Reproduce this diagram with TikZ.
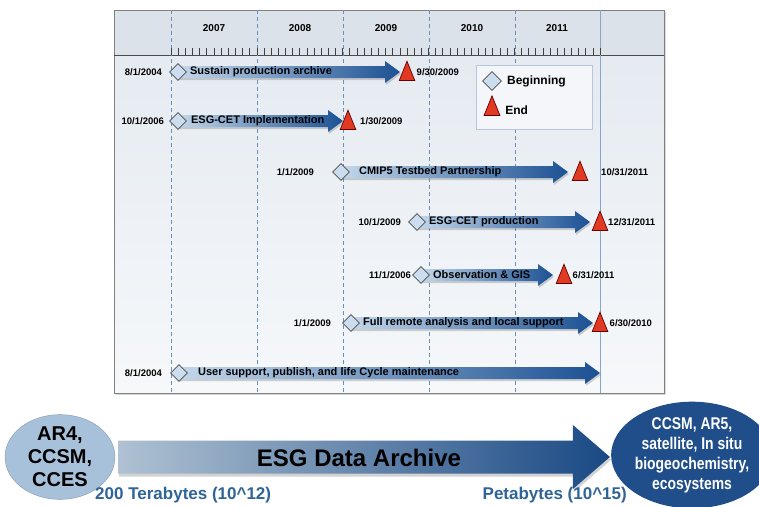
\documentclass[tikz,border=0pt]{standalone}
\usepackage{fontspec}
\setmainfont{Liberation Sans}
\newfontfamily\narrowfont[FakeStretch=0.82]{Liberation Sans}
\usetikzlibrary{positioning,calc,shapes.geometric,shadows}
\definecolor{panelhi}{HTML}{E3E9F0}
\definecolor{panello}{HTML}{F6F8FA}
\definecolor{headfill}{HTML}{DCE2E9}
\definecolor{gridblue}{HTML}{6A90BE}
\definecolor{nowblue}{HTML}{86A5C8}
\definecolor{barlight}{HTML}{C3D7EA}
\definecolor{bardark}{HTML}{1C5193}
\definecolor{startfill}{HTML}{CBDDEE}
\definecolor{endfill}{HTML}{E23A22}
\definecolor{srcfill}{HTML}{A8C1DA}
\definecolor{dstfill}{HTML}{1F4E8A}
\definecolor{sizeblue}{HTML}{2E6497}
\tikzset{
	start/.style={diamond,draw=black!70,fill=startfill,line width=0.8pt,minimum size=17pt,inner sep=0pt},
	finish/.style={isosceles triangle,shape border rotate=90,isosceles triangle apex angle=44,draw=red!40!black,fill=endfill,line width=0.7pt,minimum size=15.5pt,inner sep=0pt,yshift=-3.2pt},
	bar/.style={left color=barlight,right color=bardark,drop shadow={opacity=.35,shadow xshift=1pt,shadow yshift=-2pt}},
	bartext/.style={font=\bfseries\fontsize{11}{13}\selectfont,inner sep=0pt},
	date/.style={font=\bfseries\fontsize{9.5}{11}\selectfont,inner sep=0pt},
	enddate/.style={date,yshift=3.2pt},
	year/.style={font=\bfseries\fontsize{10}{12}\selectfont,inner sep=0pt},
	grid/.style={gridblue,line width=0.8pt,dash pattern=on 4pt off 3pt},
	tick/.style={black!75,line width=0.6pt}
}
% shaded task arrow from a start point to a tip
\newcommand{\taskarrow}[2]{%
	\path[bar] ($(#1)+(0,-6)$) -- ($(#2)+(-15,-6)$) -- ($(#2)+(-15,-11)$) -- (#2)
		-- ($(#2)+(-15,11)$) -- ($(#2)+(-15,6)$) -- ($(#1)+(0,6)$) -- cycle;}

\begin{document}
\begin{tikzpicture}[x=1pt,y=-1pt]
	\useasboundingbox (0,0) rectangle (759,506);
	\fill[white] (0,0) rectangle (759,506);

	% chart panel
	\path[top color=panelhi,bottom color=panello,drop shadow={opacity=.3,shadow xshift=1.5pt,shadow yshift=-1.5pt}] (114,10) rectangle (664,393);
	\fill[headfill] (114,10) rectangle (664,55);
	\draw[black!50,line width=0.8pt] (114,10) rectangle (664,393);
	\draw[black!70,line width=0.8pt] (114,55) -- (664,55);
	\foreach \x in {171,257,343,429,515}
		\draw[grid] (\x,10) -- (\x,393);
	\draw[nowblue,line width=1pt] (600,10) -- (600,393);
	\foreach \i in {0,...,60}
		\draw[tick] ({171+\i*7.15},48) -- ({171+\i*7.15},55);
	\foreach \x/\yr in {214/2007,300/2008,386/2009,472/2010,557/2011}
		\node[year] (y\yr) at (\x,28) {\yr};

	% legend
	\node[draw=gridblue!50,fill=white!60!panelhi,line width=0.8pt,minimum width=116pt,minimum height=64pt] (legend) at (534,97) {};
	\node[start,minimum size=19pt] (ls) at (492,81) {};
	\node[bartext,font=\bfseries\fontsize{12}{14}\selectfont,right=5pt of ls] (lstext) {Beginning};
	\node[finish,minimum size=16pt] (le) at (492,107) {};
	\node[bartext,font=\bfseries\fontsize{12}{14}\selectfont,right=7pt of le] (letext) {End};

	% task rows
	\coordinate (p1) at (178,72);  \coordinate (q1) at (400,72);
	\coordinate (p2) at (178,121); \coordinate (q2) at (343,121);
	\coordinate (p3) at (341,172); \coordinate (q3) at (568,172);
	\coordinate (p4) at (417,222); \coordinate (q4) at (590,222);
	\coordinate (p5) at (421,275); \coordinate (q5) at (553,275);
	\coordinate (p6) at (351,323); \coordinate (q6) at (593,323);
	\coordinate (p7) at (179,373); \coordinate (q7) at (600,373);
	\foreach \n in {1,...,7}
		\taskarrow{p\n}{q\n};

	\node[start] (s1) at (p1) {};
	\node[finish] (e1) at (407,72) {};
	\node[bartext,right=3pt of s1] (l1) {Sustain production archive};
	\node[date,left=7pt of s1] (d1) {8/1/2004};
	\node[enddate,right=3.5pt of e1] (f1) {9/30/2009};

	\node[start] (s2) at (p2) {};
	\node[finish] (e2) at (348,121) {};
	\node[bartext,right=4pt of s2] (l2) {ESG-CET Implementation};
	\node[date,left=5pt of s2] (d2) {10/1/2006};
	\node[enddate,right=6pt of e2] (f2) {1/30/2009};

	\node[start] (s3) at (p3) {};
	\node[finish] (e3) at (580,172) {};
	\node[bartext,right=9pt of s3] (l3) {CMIP5 Testbed Partnership};
	\node[date,left=18pt of s3] (d3) {1/1/2009};
	\node[enddate,right=15pt of e3] (f3) {10/31/2011};

	\node[start] (s4) at (p4) {};
	\node[finish] (e4) at (600,222) {};
	\node[bartext,right=3pt of s4] (l4) {ESG-CET production};
	\node[date,left=7pt of s4] (d4) {10/1/2009};
	\node[enddate,right=2pt of e4] (f4) {12/31/2011};

	\node[start] (s5) at (p5) {};
	\node[finish] (e5) at (564,275) {};
	\node[bartext,right=3pt of s5] (l5) {Observation \& GIS};
	\node[date,left=1pt of s5] (d5) {11/1/2006};
	\node[enddate,right=2.5pt of e5] (f5) {6/31/2011};

	\node[start] (s6) at (p6) {};
	\node[finish] (e6) at (600,323) {};
	\node[bartext,right=3pt of s6] (l6) {Full remote analysis and local support};
	\node[date,left=11pt of s6] (d6) {1/1/2009};
	\node[enddate,right=3.5pt of e6] (f6) {6/30/2010};

	\node[start] (s7) at (p7) {};
	\node[bartext,right=10pt of s7] (l7) {User support, publish, and life Cycle maintenance};
	\node[date,left=8pt of s7] (d7) {8/1/2004};

	% archive growth
	\node[ellipse,fill=srcfill,draw=srcfill!80!black,line width=0.4pt,minimum width=110pt,minimum height=80pt,inner sep=0pt,align=center,
		font=\bfseries\fontsize{20}{23}\selectfont] (src) at (60,457) {AR4,\\CCSM,\\CCES};
	\node[ellipse,fill=dstfill,minimum width=134pt,minimum height=97pt,inner sep=0pt,align=center,text=white,
		font=\narrowfont\bfseries\fontsize{17}{20}\selectfont] (dst) at (692,455) {CCSM, AR5,\\satellite, In situ\\biogeochemistry,\\ecosystems};
	\coordinate (tail) at ($(src.east)+(3,0)$);
	\coordinate (tip) at ($(dst.west |- src.east)+(-1,0)$);
	\path[left color=barlight!90!black,right color=bardark!90!black,drop shadow={opacity=.35,shadow xshift=1pt,shadow yshift=-3pt}]
		($(tail)+(0,-16.5)$) -- ($(tip)+(-37,-16.5)$) -- ($(tip)+(-37,-32)$) -- (tip)
		-- ($(tip)+(-37,32)$) -- ($(tip)+(-37,16.5)$) -- ($(tail)+(0,16.5)$) -- cycle;
	\node[font=\bfseries\fontsize{24}{28}\selectfont,inner sep=0pt] (archive) at (359,458) {ESG Data Archive};
	\node[font=\bfseries\fontsize{17}{20}\selectfont,text=sizeblue,inner sep=0pt,anchor=west] (tera) at (95,495) {200 Terabytes (10\textasciicircum12)};
	\node[font=\bfseries\fontsize{17}{20}\selectfont,text=sizeblue,inner sep=0pt,anchor=east] (peta) at (627,495) {Petabytes (10\textasciicircum15)};
\end{tikzpicture}
\end{document}
